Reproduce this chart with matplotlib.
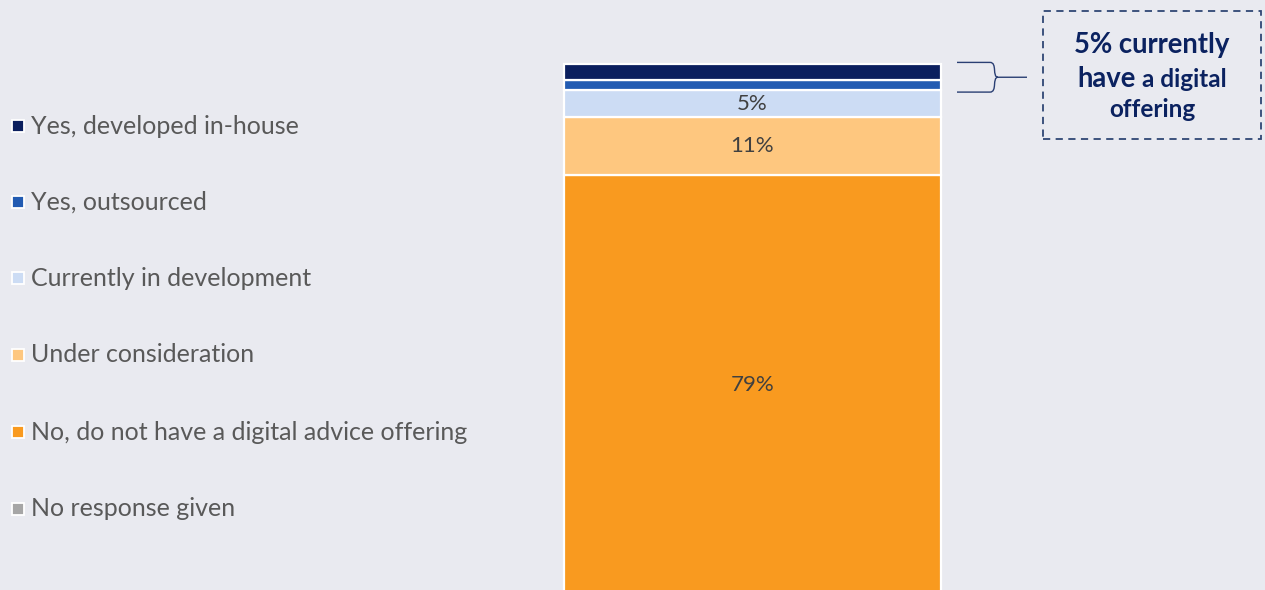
import matplotlib
matplotlib.use("Agg")
import matplotlib.pyplot as plt
from matplotlib.path import Path
from matplotlib.patches import PathPatch, Rectangle

plt.rcParams['font.family'] = ['Lato', 'DejaVu Sans']

# Survey responses (share of respondents, %), listed top of bar to bottom
categories = [
    "Yes, developed in-house",
    "Yes, outsourced",
    "Currently in development",
    "Under consideration",
    "No, do not have a digital advice offering",
    "No response given",
]
values = [3, 2, 5, 11, 79, 0]
colors = ["#0B1F5E", "#225BB2", "#CCDCF4", "#FEC77F", "#F99A1F", "#A6A6A6"]
shown_labels = [None, None, "5%", "11%", "79%", None]
callout_value = values[0] + values[1]

BG = "#E9EAF0"
NAVY = "#0B2260"
W, H = 1265, 590

fig = plt.figure(figsize=(W / 100, H / 100), dpi=100, facecolor=BG)
ax = fig.add_axes([0, 0, 1, 1])
ax.set_facecolor(BG)

# bar in category units: one category at x=0, width 1
px_per_unit = 377.0
bar_center_px = 752.5
ax.set_xlim(-bar_center_px / px_per_unit, (W - bar_center_px) / px_per_unit)
px_per_pct = 5.3
zero_px = 594.0
ax.set_ylim((zero_px - H) / px_per_pct, zero_px / px_per_pct)
ax.axis("off")

# stack from the bottom (last category) upward
bottom = 0.0
for cat, val, col, lab in reversed(list(zip(categories, values, colors, shown_labels))):
    if val > 0:
        ax.bar(0, val, width=1.0, bottom=bottom, color=col,
               edgecolor="white", linewidth=1.6)
        if lab:
            ax.text(0, bottom + val / 2, lab, ha="center", va="center",
                    fontsize=16, color="#404040")
    bottom += val

# legend column on the left
leg_y = [126, 202, 278, 355, 432, 509]
for cat, col, y in zip(categories, colors, leg_y):
    fy = 1 - y / H
    fig.lines.append(plt.Line2D([17.5 / W], [fy], marker="s", markersize=8,
                                markerfacecolor=col, markeredgecolor="white",
                                markeredgewidth=1.3, transform=fig.transFigure))
    fig.text(31 / W, fy, cat, ha="left", va="center", fontsize=18,
             color="#595959")

# curly brace spanning the "yes" segments
top_v = sum(values)
low_v = top_v - callout_value
xb0 = (957 - bar_center_px) / px_per_unit
xb1 = (990 - bar_center_px) / px_per_unit
xtip = (998 - bar_center_px) / px_per_unit
xend = (1027 - bar_center_px) / px_per_unit
ymid = (top_v + low_v) / 2
ytop = top_v + 0.3
ylow = low_v - 0.3
verts = [
    (xb0, ytop), (xb1, ytop),
    (xb1 + 0.02, ytop), (xb1 + 0.005, ymid), (xtip, ymid),
    (xend, ymid),
    (xtip, ymid),
    (xb1 + 0.005, ymid), (xb1 + 0.02, ylow), (xb1, ylow),
    (xb0, ylow),
]
codes = [Path.MOVETO, Path.LINETO,
         Path.CURVE4, Path.CURVE4, Path.CURVE4,
         Path.LINETO,
         Path.MOVETO,
         Path.CURVE4, Path.CURVE4, Path.CURVE4,
         Path.LINETO]
ax.add_patch(PathPatch(Path(verts, codes), fill=False, edgecolor="#2A3F73",
                       linewidth=1.0))

# dashed call-out box
bx0, by0, bx1, by1 = 1043, 11, 1261, 139
fig.patches.append(Rectangle((bx0 / W, 1 - by1 / H), (bx1 - bx0) / W,
                             (by1 - by0) / H, transform=fig.transFigure,
                             fill=False, edgecolor="#2F4775", linewidth=1.3,
                             linestyle=(0, (4, 3))))
cx = (bx0 + bx1) / 2 / W
fig.text(cx, 1 - 45 / H, f"{callout_value}% currently", ha="center",
         va="center", fontsize=19.8, fontweight="bold", color=NAVY)
fig.text(1136 / W, 1 - 87 / H, "have", ha="right", va="baseline",
         fontsize=19.8, fontweight="bold", color=NAVY)
fig.text(1142 / W, 1 - 87 / H, "a digital", ha="left", va="baseline",
         fontsize=17.5, fontweight="bold", color=NAVY)
fig.text(cx, 1 - 110 / H, "offering", ha="center", va="center",
         fontsize=17.5, fontweight="bold", color=NAVY)

fig.savefig("out.png", dpi=100, facecolor=BG)
